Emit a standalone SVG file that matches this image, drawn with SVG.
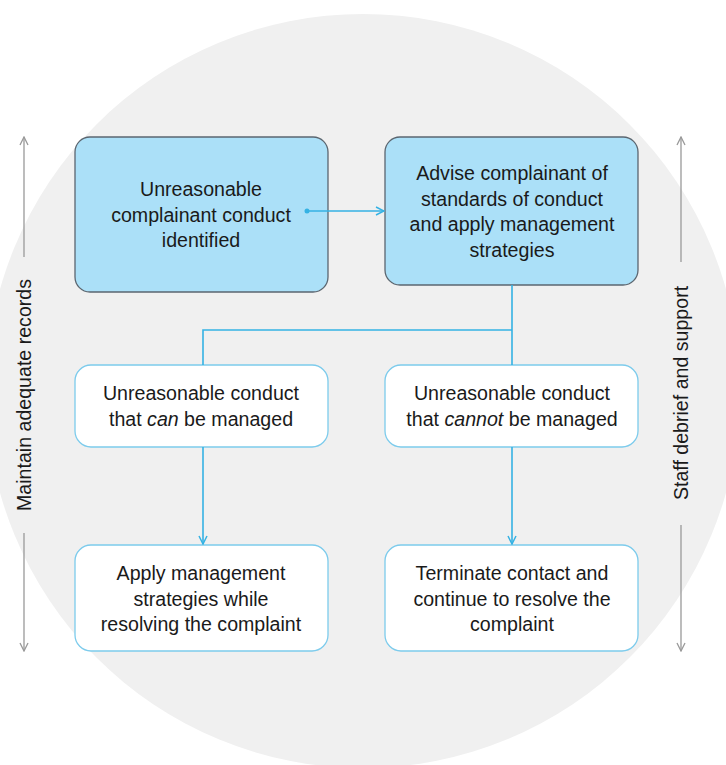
<svg xmlns="http://www.w3.org/2000/svg" width="726" height="765" viewBox="0 0 726 765">
<style>
.lbl{font-family:"Liberation Sans",Arial,sans-serif;font-size:19.6px;fill:#1a1a1a;text-anchor:middle}
.blue{fill:#abe0f8;stroke:#5b6670;stroke-width:1.3}
.white{fill:#ffffff;stroke:#7ccbec;stroke-width:1.3}
.conn{fill:none;stroke:#35b2e4;stroke-width:1.6}
.side{fill:none;stroke:#999999;stroke-width:1.3}
</style>
<defs>
<marker id="ah" viewBox="0 0 10 10" refX="9" refY="5" markerWidth="10" markerHeight="10" markerUnits="userSpaceOnUse" orient="auto">
<path d="M1,1 L9,5 L1,9" fill="none" stroke="#35b2e4" stroke-width="1.5"/>
</marker>
<marker id="sah" viewBox="0 0 10 10" refX="9" refY="5" markerWidth="10" markerHeight="10" markerUnits="userSpaceOnUse" orient="auto">
<path d="M1,1 L9,5 L1,9" fill="none" stroke="#999999" stroke-width="1.3"/>
</marker>
</defs>
<rect width="726" height="765" fill="#ffffff"/>
<circle cx="363" cy="391" r="377" fill="#f0f0f0"/>

<g id="side-left">
<line class="side" x1="24" y1="257" x2="24" y2="137" marker-end="url(#sah)"/>
<line class="side" x1="24" y1="533" x2="24" y2="651" marker-end="url(#sah)"/>
<text class="lbl" transform="translate(31,395) rotate(-90)">Maintain adequate records</text>
</g>
<g id="side-right">
<line class="side" x1="681" y1="262" x2="681" y2="137" marker-end="url(#sah)"/>
<line class="side" x1="681" y1="525" x2="681" y2="651" marker-end="url(#sah)"/>
<text class="lbl" transform="translate(688,393) rotate(-90)">Staff debrief and support</text>
</g>

<g id="n1">
<rect class="blue" x="75" y="137" width="253" height="155" rx="15"/>
<text class="lbl"><tspan x="201" y="196">Unreasonable</tspan><tspan x="201" y="221.5">complainant conduct</tspan><tspan x="201" y="247">identified</tspan></text>
</g>
<g id="n2">
<rect class="blue" x="385" y="137" width="253" height="148" rx="15"/>
<text class="lbl"><tspan x="512" y="180">Advise complainant of</tspan><tspan x="512" y="205.5">standards of conduct</tspan><tspan x="512" y="231">and apply management</tspan><tspan x="512" y="256.5">strategies</tspan></text>
</g>
<g id="n3">
<rect class="white" x="75" y="365" width="253" height="82" rx="16"/>
<text class="lbl"><tspan x="201" y="400">Unreasonable conduct</tspan><tspan x="201" y="425.5">that <tspan font-style="italic">can</tspan> be managed</tspan></text>
</g>
<g id="n4">
<rect class="white" x="385" y="365" width="253" height="82" rx="16"/>
<text class="lbl"><tspan x="512" y="400">Unreasonable conduct</tspan><tspan x="512" y="425.5">that <tspan font-style="italic">cannot</tspan> be managed</tspan></text>
</g>
<g id="n5">
<rect class="white" x="75" y="545" width="253" height="106" rx="16"/>
<text class="lbl"><tspan x="201" y="580">Apply management</tspan><tspan x="201" y="605.5">strategies while</tspan><tspan x="201" y="631">resolving the complaint</tspan></text>
</g>
<g id="n6">
<rect class="white" x="385" y="545" width="253" height="106" rx="16"/>
<text class="lbl"><tspan x="512" y="580">Terminate contact and</tspan><tspan x="512" y="605.5">continue to resolve the</tspan><tspan x="512" y="631">complaint</tspan></text>
</g>

<g id="connectors">
<circle cx="307" cy="211" r="2.5" fill="#35b2e4"/>
<line class="conn" x1="307" y1="211" x2="384" y2="211" marker-end="url(#ah)"/>
<path class="conn" d="M512,285 V365 M512,330 H203 V365"/>
<line class="conn" x1="203" y1="447" x2="203" y2="544" marker-end="url(#ah)"/>
<line class="conn" x1="512" y1="447" x2="512" y2="544" marker-end="url(#ah)"/>
</g>
</svg>
